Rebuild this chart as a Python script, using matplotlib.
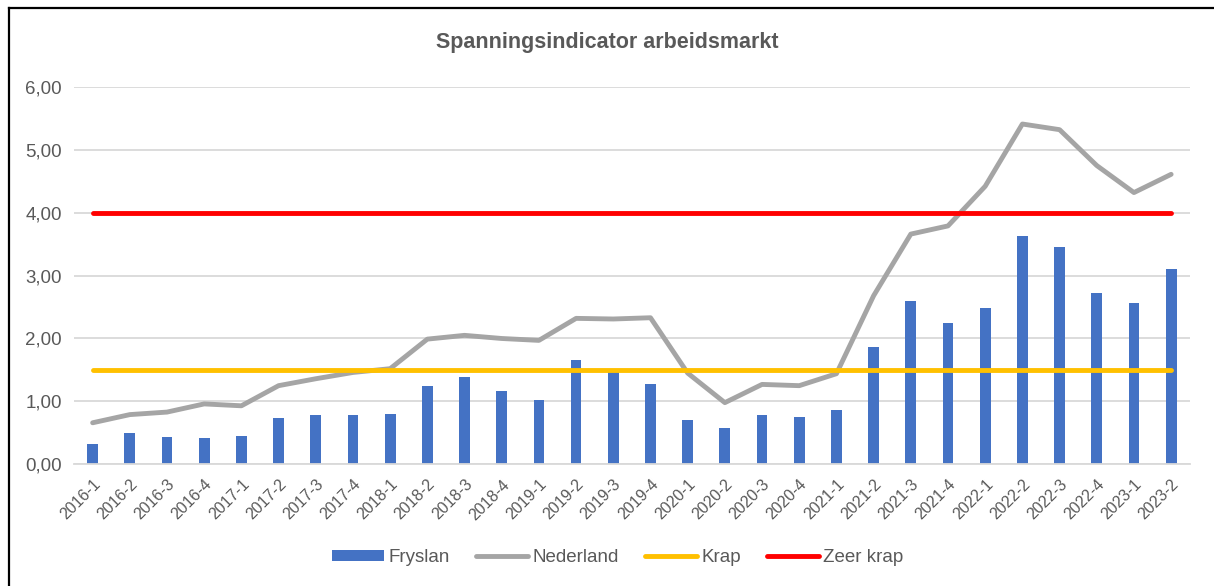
import matplotlib
matplotlib.use("Agg")
import matplotlib.pyplot as plt
from matplotlib.patches import Patch
from matplotlib.lines import Line2D
from matplotlib.ticker import FuncFormatter

periods = ["2016-1", "2016-2", "2016-3", "2016-4", "2017-1", "2017-2", "2017-3", "2017-4",
           "2018-1", "2018-2", "2018-3", "2018-4", "2019-1", "2019-2", "2019-3", "2019-4",
           "2020-1", "2020-2", "2020-3", "2020-4", "2021-1", "2021-2", "2021-3", "2021-4",
           "2022-1", "2022-2", "2022-3", "2022-4", "2023-1", "2023-2"]
fryslan = [0.32, 0.50, 0.44, 0.42, 0.45, 0.73, 0.78, 0.79, 0.80, 1.25, 1.39, 1.16, 1.03, 1.66,
           1.49, 1.27, 0.71, 0.58, 0.78, 0.75, 0.86, 1.86, 2.59, 2.24, 2.49, 3.63, 3.45, 2.73,
           2.56, 3.10]
nederland = [0.66, 0.79, 0.83, 0.96, 0.93, 1.25, 1.36, 1.46, 1.52, 1.99, 2.05, 2.00, 1.97, 2.32,
             2.31, 2.33, 1.45, 0.98, 1.27, 1.25, 1.44, 2.68, 3.66, 3.79, 4.42, 5.41, 5.32, 4.75,
             4.32, 4.61]
krap_level = 1.5
zeer_krap_level = 4.0

TXT = "#595959"
LW = 3.5
plt.rcParams['font.family'] = ['Liberation Sans', 'DejaVu Sans']

fig = plt.figure(figsize=(12.14, 5.86), dpi=100)
ax = fig.add_axes([0.061, 0.2077, 0.919, 0.644])

x = list(range(len(periods)))
ax.bar(x, fryslan, width=0.29, color="#4472C4", zorder=2)
ax.plot(x, nederland, color="#A5A5A5", lw=LW, solid_capstyle="round", solid_joinstyle="round", zorder=3)
ax.plot(x, [krap_level] * len(x), color="#FFC000", lw=LW, solid_capstyle="round", zorder=4)
ax.plot(x, [zeer_krap_level] * len(x), color="#FF0000", lw=LW, solid_capstyle="round", zorder=4)

ax.set_xlim(-0.5, len(x) - 0.5)
ax.set_ylim(0, 6)
ax.set_yticks([0, 1, 2, 3, 4, 5, 6])
ax.yaxis.set_major_formatter(FuncFormatter(lambda v, p: f"{v:.2f}".replace(".", ",")))
ax.grid(axis="y", color="#D9D9D9", lw=1.3, zorder=0)
ax.set_axisbelow(True)
for s in ["top", "right", "left"]:
    ax.spines[s].set_visible(False)
ax.spines["bottom"].set_color("#D9D9D9")
ax.spines["bottom"].set_linewidth(1.3)
ax.tick_params(axis="both", length=0, colors=TXT)
ax.tick_params(axis="y", pad=8.6, labelsize=13.5)
ax.set_xticks(x)
ax.set_xticklabels(periods, rotation=45, ha="right", va="top", rotation_mode="anchor", fontsize=11.5)
ax.tick_params(axis="x", pad=9)

fig.text(0.5, 0.928, "Spanningsindicator arbeidsmarkt", ha="center", va="center",
         fontsize=15.5, fontweight="bold", color=TXT)

handles = [Patch(facecolor="#4472C4", edgecolor="none"),
           Line2D([], [], color="#A5A5A5", lw=LW, solid_capstyle="round"),
           Line2D([], [], color="#FFC000", lw=LW, solid_capstyle="round"),
           Line2D([], [], color="#FF0000", lw=LW, solid_capstyle="round")]
leg = fig.legend(handles, ["Fryslan", "Nederland", "Krap", "Zeer krap"], loc="center",
                 bbox_to_anchor=(0.509, 0.048), ncol=4, frameon=False, fontsize=13.5,
                 handlelength=2.75, handleheight=0.48, handletextpad=0.25, columnspacing=1.4)
for t in leg.get_texts():
    t.set_color(TXT)

# chart border
fig.add_artist(Line2D([9 / 1214, 9 / 1214], [0, 1 - 8 / 586], transform=fig.transFigure, color="black", lw=1.6))
fig.add_artist(Line2D([9 / 1214, 1], [1 - 8 / 586, 1 - 8 / 586], transform=fig.transFigure, color="black", lw=1.6))

fig.savefig("out.png", dpi=100)
